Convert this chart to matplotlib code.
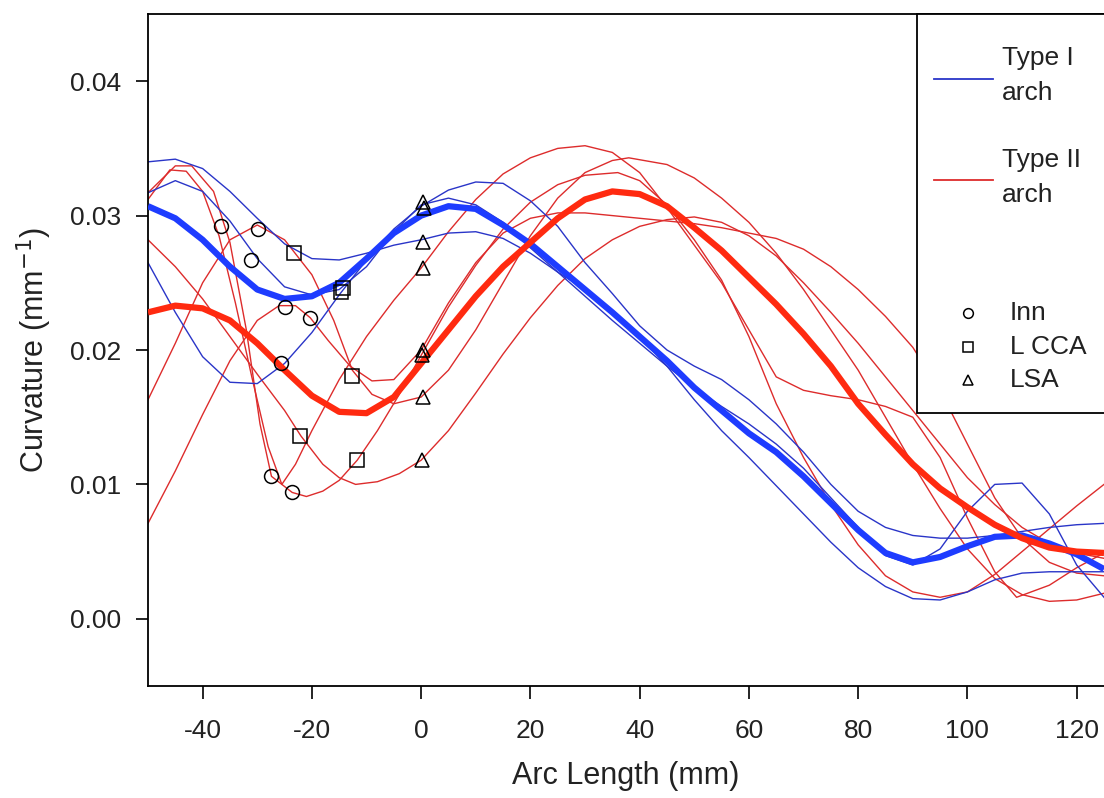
import matplotlib
matplotlib.use("Agg")
import matplotlib.pyplot as plt
from matplotlib.lines import Line2D
from matplotlib.patches import Rectangle

# arc length grid used by the type I curves and the two mean curves
x5 = [-50, -45, -40, -35, -30, -25, -20, -15, -10, -5, 0, 5, 10, 15, 20, 25, 30, 35,
      40, 45, 50, 55, 60, 65, 70, 75, 80, 85, 90, 95, 100, 105, 110, 115, 120, 125]

# Type I arch (blue) individual curves
blue_a = [0.0265, 0.0228, 0.0195, 0.0176, 0.0175, 0.0190, 0.0213, 0.0241, 0.0267, 0.0290,
          0.0307, 0.0319, 0.0325, 0.0324, 0.0311, 0.0292, 0.0265, 0.0242, 0.0218, 0.0200,
          0.0188, 0.0178, 0.0163, 0.0145, 0.0124, 0.0100, 0.0080, 0.0068, 0.0062, 0.0060,
          0.0060, 0.0062, 0.0065, 0.0068, 0.0070, 0.0071]
blue_b = [0.0317, 0.0326, 0.0318, 0.0296, 0.0268, 0.0247, 0.0241, 0.0245, 0.0262, 0.0288,
          0.0308, 0.0313, 0.0308, 0.0295, 0.0276, 0.0258, 0.0240, 0.0222, 0.0205, 0.0188,
          0.0172, 0.0158, 0.0145, 0.0130, 0.0112, 0.0090, 0.0068, 0.0047, 0.0040, 0.0052,
          0.0080, 0.0100, 0.0101, 0.0078, 0.0040, 0.0016]
blue_c = [0.0340, 0.0342, 0.0335, 0.0318, 0.0298, 0.0279, 0.0268, 0.0267, 0.0272, 0.0278,
          0.0282, 0.0287, 0.0288, 0.0283, 0.0272, 0.0258, 0.0245, 0.0228, 0.0210, 0.0188,
          0.0163, 0.0140, 0.0120, 0.0099, 0.0078, 0.0057, 0.0038, 0.0024, 0.0015, 0.0014,
          0.0020, 0.0029, 0.0034, 0.0035, 0.0035, 0.0035]
blue_mean = [0.0307, 0.0298, 0.0282, 0.0262, 0.0245, 0.0238, 0.0240, 0.0250, 0.0268, 0.0287,
             0.0300, 0.0307, 0.0305, 0.0293, 0.0279, 0.0262, 0.0245, 0.0228, 0.0210, 0.0192,
             0.0172, 0.0155, 0.0138, 0.0124, 0.0106, 0.0086, 0.0066, 0.0049, 0.0042, 0.0046,
             0.0054, 0.0061, 0.0062, 0.0056, 0.0048, 0.0037]

# Type II arch (red) individual curves
red1_x = [-50, -45, -42, -38, -35, -32, -29.5, -27.4, -25.5, -23, -20, -15, -10, -5, 0, 5, 10,
          15, 20, 25, 30, 35, 40, 45, 50, 55, 60, 65, 70, 75, 80, 85, 90, 95, 100, 105, 109,
          115, 120, 125]
red1_y = [0.0317, 0.0337, 0.0337, 0.0318, 0.0280, 0.0215, 0.0145, 0.0106, 0.0100, 0.0115,
          0.0140, 0.0178, 0.0210, 0.0237, 0.0261, 0.0288, 0.0312, 0.0331, 0.0343, 0.0350,
          0.0352, 0.0347, 0.0332, 0.0306, 0.0278, 0.0250, 0.0215, 0.0180, 0.0170, 0.0166,
          0.0163, 0.0158, 0.0150, 0.0120, 0.0075, 0.0035, 0.0016, 0.0025, 0.0038, 0.0049]
red2_x = [-50, -46, -43, -40, -37, -34, -31, -28, -25.5, -23.6, -21, -18, -15, -11.7, -8, -4,
          0, 5, 10, 15, 20, 25, 30, 36, 40, 45, 50, 55, 60, 65, 70, 75, 80, 85, 90, 95, 100,
          105, 110, 115, 120, 125]
red2_y = [0.0312, 0.0334, 0.0333, 0.0318, 0.0285, 0.0235, 0.0180, 0.0128, 0.0100, 0.0094,
          0.0091, 0.0095, 0.0103, 0.0118, 0.0140, 0.0167, 0.0196, 0.0232, 0.0263, 0.0290,
          0.0310, 0.0323, 0.0330, 0.0332, 0.0326, 0.0308, 0.0282, 0.0252, 0.0210, 0.0160,
          0.0120, 0.0085, 0.0055, 0.0032, 0.0020, 0.0016, 0.0020, 0.0033, 0.0050, 0.0067,
          0.0084, 0.0100]
red3_x = [-50, -45, -40, -35, -30, -25, -22, -18, -15, -12, -8, -4, 0, 5, 10, 15, 20, 25, 30,
          35, 40, 45, 50, 55, 60, 65, 70, 75, 80, 85, 90, 95, 100, 105, 110, 115, 120, 125]
red3_y = [0.0282, 0.0262, 0.0238, 0.0210, 0.0182, 0.0155, 0.0136, 0.0115, 0.0105, 0.0100,
          0.0102, 0.0108, 0.0118, 0.0140, 0.0168, 0.0197, 0.0224, 0.0248, 0.0268, 0.0282,
          0.0292, 0.0297, 0.0299, 0.0295, 0.0285, 0.0270, 0.0250, 0.0228, 0.0205, 0.0180,
          0.0155, 0.0130, 0.0105, 0.0085, 0.0068, 0.0056, 0.0049, 0.0045]
red4_x = [-50, -45, -40, -35, -30, -25, -20, -16, -12.6, -9, -5, 0, 5, 10, 15, 20, 25, 30, 35,
          38, 45, 50, 55, 60, 65, 70, 75, 80, 85, 90, 95, 100, 105, 110, 115, 120, 125]
red4_y = [0.0163, 0.0205, 0.0250, 0.0282, 0.0293, 0.0282, 0.0256, 0.0222, 0.0185, 0.0167,
          0.0160, 0.0165, 0.0185, 0.0215, 0.0250, 0.0285, 0.0313, 0.0332, 0.0341, 0.0343,
          0.0338, 0.0328, 0.0313, 0.0295, 0.0272, 0.0245, 0.0215, 0.0185, 0.0150, 0.0115,
          0.0082, 0.0052, 0.0030, 0.0018, 0.0013, 0.0014, 0.0019]
red5_x = [-50, -45, -40, -35, -30, -26, -23, -20.3, -17, -13, -9, -5, 0, 5, 10, 15, 20, 25, 30,
          35, 40, 45, 50, 55, 60, 65, 70, 75, 80, 85, 90, 95, 100, 105, 110, 115, 120, 125]
red5_y = [0.0071, 0.0110, 0.0152, 0.0192, 0.0222, 0.0233, 0.0233, 0.0224, 0.0207, 0.0188,
          0.0177, 0.0178, 0.0200, 0.0235, 0.0265, 0.0287, 0.0298, 0.0302, 0.0302, 0.0300,
          0.0298, 0.0296, 0.0294, 0.0291, 0.0287, 0.0283, 0.0275, 0.0262, 0.0245, 0.0225,
          0.0202, 0.0170, 0.0130, 0.0090, 0.0060, 0.0042, 0.0034, 0.0032]
red_mean = [0.0228, 0.0233, 0.0231, 0.0222, 0.0205, 0.0185, 0.0166, 0.0154, 0.0153, 0.0165,
            0.0190, 0.0215, 0.0240, 0.0262, 0.0280, 0.0298, 0.0312, 0.0318, 0.0316, 0.0307,
            0.0291, 0.0274, 0.0254, 0.0234, 0.0212, 0.0188, 0.0160, 0.0137, 0.0115, 0.0097,
            0.0083, 0.0070, 0.0060, 0.0053, 0.0050, 0.0049]

# landmark markers
inn_x = [-36.6, -29.8, -31.1, -25.0, -20.3, -25.6, -27.4, -23.6]
inn_y = [0.0292, 0.0290, 0.0267, 0.0232, 0.0224, 0.0190, 0.0106, 0.0094]
lcca_x = [-23.2, -14.6, -14.3, -12.6, -22.1, -11.7]
lcca_y = [0.0272, 0.0243, 0.0246, 0.0181, 0.0136, 0.0118]
lsa_x = [0.3, 0.5, 0.3, 0.3, 0.3, 0.2, 0.3, 0.2]
lsa_y = [0.0310, 0.0306, 0.0280, 0.0261, 0.0200, 0.0196, 0.0165, 0.0118]

x_ticks = [-40, -20, 0, 20, 40, 60, 80, 100, 120]
y_ticks = [0.00, 0.01, 0.02, 0.03, 0.04]

BLUE_THIN = "#2a35c8"
BLUE_THICK = "#1e3cff"
RED_THIN = "#dd2c2c"
RED_THICK = "#ff2a10"
TXT = "#222222"
FONT = ["Liberation Sans", "DejaVu Sans"]

W, H = 1104, 798
fig = plt.figure(figsize=(W / 100, H / 100), dpi=100)
ax = fig.add_axes([148 / W, 112 / H, 956 / W, 672 / H])


def fx(px):
    return px / W


def fy(py):
    return 1 - py / H


for xs, ys in [(red1_x, red1_y), (red2_x, red2_y), (red3_x, red3_y),
               (red4_x, red4_y), (red5_x, red5_y)]:
    ax.plot(xs, ys, color=RED_THIN, lw=1.0, zorder=2, solid_joinstyle="round")
for ys in [blue_a, blue_b, blue_c]:
    ax.plot(x5, ys, color=BLUE_THIN, lw=1.0, zorder=2, solid_joinstyle="round")
ax.plot(x5, blue_mean, color=BLUE_THICK, lw=4.5, zorder=3,
        solid_capstyle="butt", solid_joinstyle="round")
ax.plot(x5, red_mean, color=RED_THICK, lw=4.5, zorder=3,
        solid_capstyle="butt", solid_joinstyle="round")

mk = dict(ls="none", mfc="none", mec="black", mew=1.1, ms=10, zorder=4)
ax.plot(inn_x, inn_y, marker="o", **mk)
ax.plot(lcca_x, lcca_y, marker="s", **mk)
ax.plot(lsa_x, lsa_y, marker="^", **mk)

ax.set_xlim(-50, 125)
ax.set_ylim(-0.005, 0.045)
ax.set_xticks(x_ticks)
ax.set_xticklabels([str(v) for v in x_ticks], family=FONT, fontsize=19, color=TXT)
ax.set_yticks(y_ticks)
ax.set_yticklabels([f"{v:.2f}" for v in y_ticks], family=FONT, fontsize=19, color=TXT)
ax.tick_params(axis="both", direction="out", length=9, width=1.2, color="black")
ax.tick_params(axis="y", pad=10)
ax.tick_params(axis="x", pad=15)
for s in ["left", "bottom", "top"]:
    ax.spines[s].set_linewidth(1.3)
ax.spines["right"].set_visible(False)

ax.set_xlabel("Arc Length (mm)", family=FONT, fontsize=22, color=TXT, labelpad=13)
ax.set_ylabel("Curvature (mm$^{-1}$)", family=FONT, fontsize=22, color=TXT, labelpad=12)

# legend drawn by hand in figure pixel positions
fig.patches.append(Rectangle((fx(917), fy(413)), fx(200), (413 - 14) / H,
                             transform=fig.transFigure, facecolor="white",
                             edgecolor="black", lw=1.3, zorder=5))
fig.lines.append(Line2D([fx(934), fx(993)], [fy(79), fy(79)], transform=fig.transFigure,
                        color=BLUE_THIN, lw=1.3, zorder=6))
fig.lines.append(Line2D([fx(934), fx(993)], [fy(180), fy(180)], transform=fig.transFigure,
                        color=RED_THIN, lw=1.3, zorder=6))
tkw = dict(family=FONT, fontsize=19, color=TXT, va="center", ha="left", zorder=6)
fig.text(fx(1002), fy(58), "Type I", **tkw)
fig.text(fx(1002), fy(93), "arch", **tkw)
fig.text(fx(1002), fy(160), "Type II", **tkw)
fig.text(fx(1002), fy(195), "arch", **tkw)
for mark, py, label in [("o", 313, "Inn"), ("s", 347, "L CCA"), ("^", 380, "LSA")]:
    fig.lines.append(Line2D([fx(968)], [fy(py)], transform=fig.transFigure, marker=mark,
                            ls="none", mfc="none", mec="black", mew=1.1, ms=7, zorder=6))
    fig.text(fx(1010), fy(py), label, **tkw)

fig.savefig("out.png", dpi=100)
